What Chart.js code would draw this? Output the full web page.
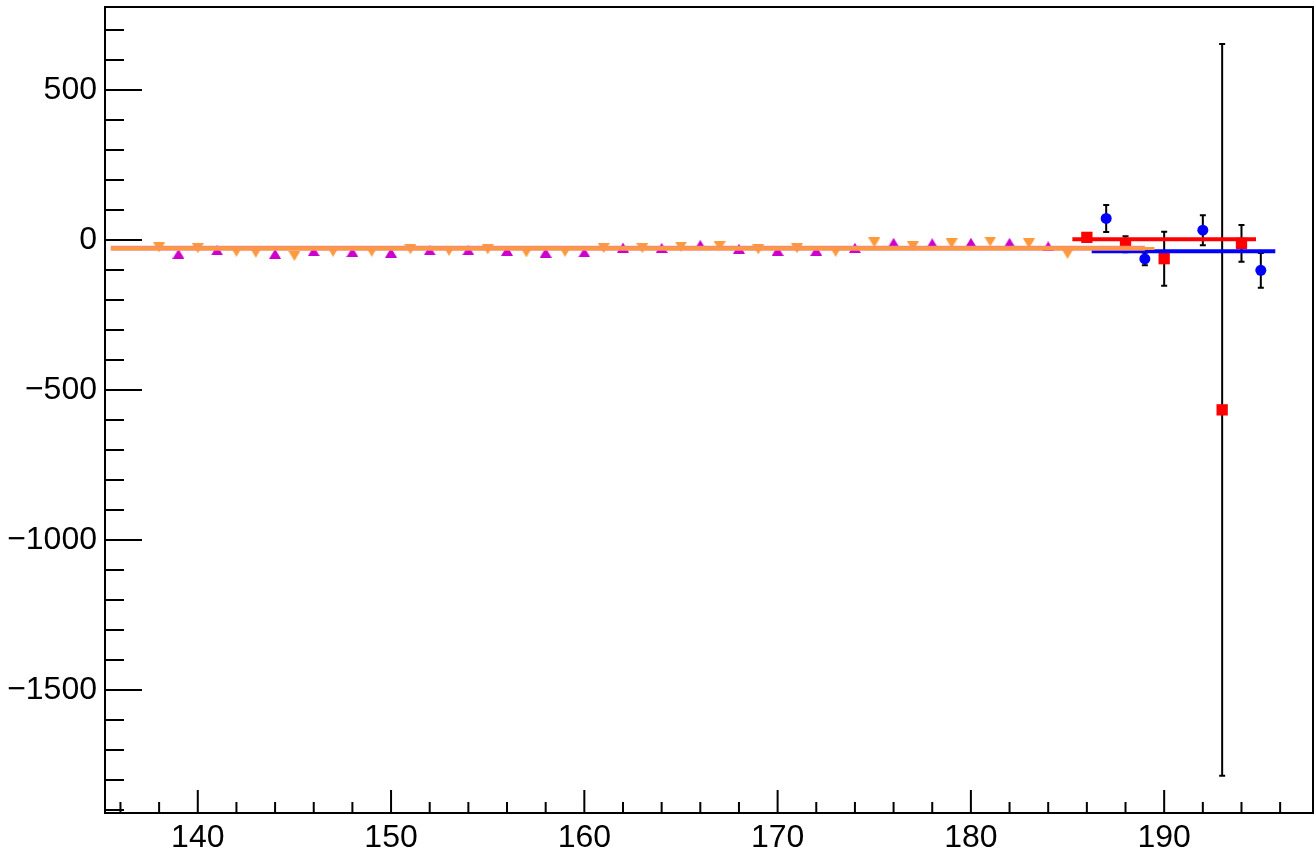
<!DOCTYPE html>
<html>
<head>
<meta charset="utf-8">
<script src="https://cdn.jsdelivr.net/npm/chart.js@4.4.0/dist/chart.umd.min.js"></script>
<style>
html, body { margin: 0; padding: 0; background: #fff; }
canvas { display: block; }
</style>
</head>
<body>
<canvas id="plot" width="1314" height="850"></canvas>
<script>
// magenta up triangles
let magentaX = [139, 141, 144, 146, 148, 150, 152, 154, 156, 158, 160, 162, 164, 166, 168, 170, 172, 174, 176, 178, 180, 182, 184];
let magentaY = [-46, -34, -46, -37, -40, -42, -34, -34, -36, -42, -41, -25, -26, -16, -29, -36, -36, -26, -9, -11, -9, -9, -21];

// orange down triangles
let orangeX = [138, 140, 142, 143, 145, 147, 149, 151, 153, 155, 157, 159, 161, 163, 165, 167, 169, 171, 173, 175, 177, 179, 181, 183, 185];
let orangeY = [-24, -27, -39, -42, -53, -39, -39, -31, -36, -31, -41, -39, -27, -27, -22, -20, -31, -27, -39, -8, -20, -11, -5, -11, -46];

// blue circles with errors
let blueX = [187, 189, 192, 195];
let blueY = [72, -63, 33, -101];
let blueErr = [45, 21, 50, 58];

// red squares with errors
let redX = [186, 188, 190, 193, 194];
let redY = [9, -14, -62, -566, -11];
let redErr = [4, 27, 90, 1220, 61];

// constant fit lines
let pinkFitX = [135.5, 189.0];
let pinkFitY = -27;
let orangeFitX = [135.5, 189.5];
let orangeFitY = -28;
let redFitX = [185.25, 194.75];
let redFitY = 3;
let blueFitX = [186.25, 195.75];
let blueFitY = -37;

// axes
let xMin = 135.2, xMax = 197.7;
let yMin = -1910, yMax = 777;
let xMajor = [140, 150, 160, 170, 180, 190];
let xMinor = [136, 138, 142, 144, 146, 148, 152, 154, 156, 158, 162, 164, 166, 168, 172, 174, 176, 178, 182, 184, 186, 188, 192, 194, 196];
let yMajor = [-1500, -1000, -500, 0, 500];
let yMinor = [-1900, -1800, -1700, -1600, -1400, -1300, -1200, -1100, -900, -800, -700, -600, -400, -300, -200, -100, 100, 200, 300, 400, 600, 700];

function pts(xs, ys) {
  return xs.map((x, i) => ({ x: x, y: Array.isArray(ys) ? ys[i] : ys }));
}

function triangleMarker(color, down) {
  let c = document.createElement("canvas");
  c.width = 12;
  c.height = 10;
  let g = c.getContext("2d");
  g.fillStyle = color;
  g.beginPath();
  if (down) {
    g.moveTo(0, 0); g.lineTo(12, 0); g.lineTo(6, 10);
  } else {
    g.moveTo(6, 0); g.lineTo(12, 10); g.lineTo(0, 10);
  }
  g.closePath();
  g.fill();
  return c;
}

let font = { family: "'Liberation Sans', Arial, sans-serif", size: 32 };

// error bars + ROOT style frame and inner ticks
let rootFrame = {
  id: "rootFrame",
  beforeDatasetsDraw(chart) {
    let c = chart.ctx, xs = chart.scales.x, ys = chart.scales.y;
    c.save();
    c.strokeStyle = "#000";
    c.lineWidth = 2;
    let bars = [[blueX, blueY, blueErr], [redX, redY, redErr]];
    bars.forEach(([bx, by, be]) => {
      bx.forEach((x, i) => {
        let px = xs.getPixelForValue(x);
        let top = ys.getPixelForValue(by[i] + be[i]);
        let bot = ys.getPixelForValue(by[i] - be[i]);
        c.beginPath();
        c.moveTo(px, top); c.lineTo(px, bot);
        c.moveTo(px - 3, top); c.lineTo(px + 3, top);
        c.moveTo(px - 3, bot); c.lineTo(px + 3, bot);
        c.stroke();
      });
    });
    c.restore();
  },
  afterDraw(chart) {
    let c = chart.ctx, a = chart.chartArea, xs = chart.scales.x, ys = chart.scales.y;
    c.save();
    c.strokeStyle = "#000";
    c.lineWidth = 2;
    c.strokeRect(a.left, a.top, a.right - a.left, a.bottom - a.top);
    c.beginPath();
    xMajor.forEach(v => { let p = xs.getPixelForValue(v); c.moveTo(p, a.bottom); c.lineTo(p, a.bottom - 23); });
    xMinor.forEach(v => { let p = xs.getPixelForValue(v); c.moveTo(p, a.bottom); c.lineTo(p, a.bottom - 11); });
    yMajor.forEach(v => { let p = ys.getPixelForValue(v); c.moveTo(a.left, p); c.lineTo(a.left + 37, p); });
    yMinor.forEach(v => { let p = ys.getPixelForValue(v); c.moveTo(a.left, p); c.lineTo(a.left + 19, p); });
    c.stroke();
    c.restore();
  }
};

new Chart(document.getElementById("plot"), {
  type: "scatter",
  data: {
    datasets: [
      { data: pts(pinkFitX, pinkFitY), showLine: true, borderColor: "#f28a80", borderWidth: 5, pointRadius: 0, order: 1 },
      { data: pts(orangeFitX, orangeFitY), showLine: true, borderColor: "#ff9a3a", borderWidth: 3, pointRadius: 0, order: 0 },
      { data: pts(redFitX, redFitY), showLine: true, borderColor: "#ff0000", borderWidth: 4, pointRadius: 0, order: 1 },
      { data: pts(blueFitX, blueFitY), showLine: true, borderColor: "#0000ff", borderWidth: 4, pointRadius: 0, order: 1 },
      { data: pts(magentaX, magentaY), pointStyle: triangleMarker("#cc00cc", false), pointRadius: 6, order: 3 },
      { data: pts(orangeX, orangeY), pointStyle: triangleMarker("#ff9a3a", true), pointRadius: 6, order: 3 },
      { data: pts(blueX, blueY), pointStyle: "circle", pointRadius: 5.5, backgroundColor: "#0000ff", borderWidth: 0, order: 2 },
      { data: pts(redX, redY), pointStyle: "rect", pointRadius: 8, backgroundColor: "#ff0000", borderWidth: 0, order: 2 }
    ]
  },
  options: {
    responsive: false,
    animation: false,
    layout: { autoPadding: false, padding: { top: 7, right: 1, left: 0, bottom: 0 } },
    plugins: { legend: { display: false }, tooltip: { enabled: false } },
    scales: {
      x: {
        type: "linear",
        min: xMin,
        max: xMax,
        grid: { display: false, drawTicks: false },
        border: { display: false },
        afterBuildTicks: s => { s.ticks = xMajor.map(v => ({ value: v })); },
        afterFit: s => { s.height = 37; s.paddingLeft = 0; s.paddingRight = 0; },
        ticks: { font: font, color: "#000", padding: 6, maxRotation: 0, autoSkip: false, callback: v => String(v) }
      },
      y: {
        type: "linear",
        min: yMin,
        max: yMax,
        grid: { display: false, drawTicks: false },
        border: { display: false },
        afterBuildTicks: s => { s.ticks = yMajor.map(v => ({ value: v })); },
        afterFit: s => { s.width = 105; s.paddingTop = 0; s.paddingBottom = 0; },
        ticks: { font: font, color: "#000", padding: 8, autoSkip: false, callback: v => (v < 0 ? "\u2212" + Math.abs(v) : String(v)) }
      }
    }
  },
  plugins: [rootFrame]
});
</script>
</body>
</html>
